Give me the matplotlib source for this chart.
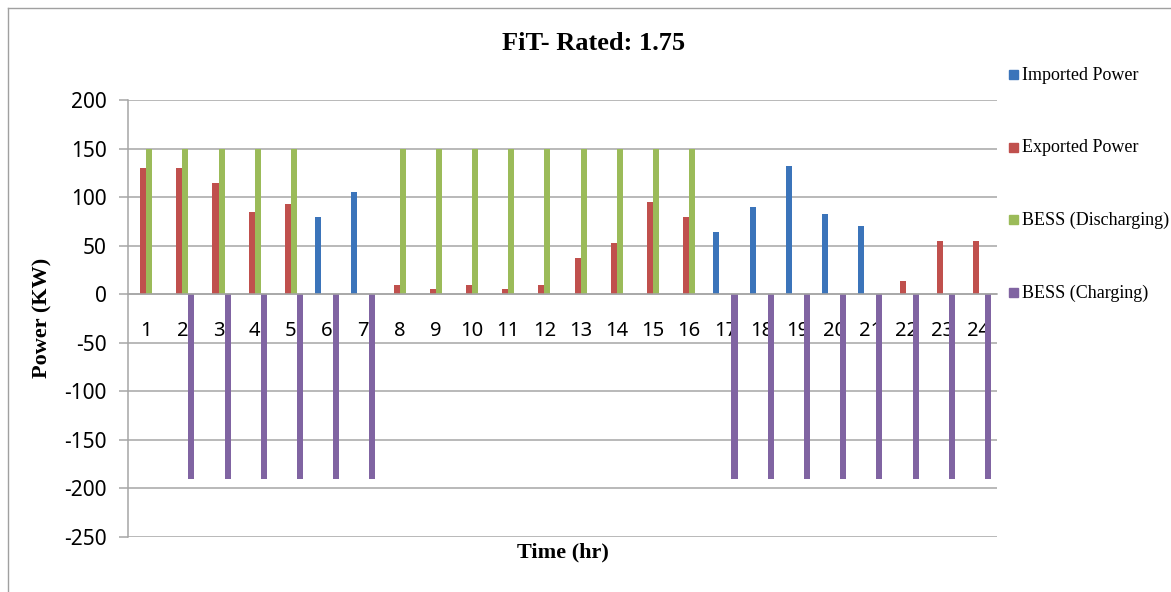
import matplotlib
matplotlib.use("Agg")
import matplotlib.pyplot as plt
from matplotlib.lines import Line2D
import numpy as np

plt.rcParams["axes.unicode_minus"] = False

hours = [str(h) for h in range(1, 25)]
imported = [0, 0, 0, 0, 0, 80, 105, 0, 0, 0, 0, 0, 0, 0, 0, 0,
            64, 90, 132, 83, 70, 0, 0, 0]
exported = [130, 130, 115, 85, 93, 0, 0, 10, 5, 10, 5, 10, 37, 53, 95, 80,
            0, 0, 0, 0, 0, 14, 55, 55]
discharging = [150, 150, 150, 150, 150, 0, 0, 150, 150, 150, 150, 150, 150,
               150, 150, 150, 0, 0, 0, 0, 0, 0, 0, 0]
charging = [0, -190, -190, -190, -190, -190, -190, 0, 0, 0, 0, 0, 0, 0, 0, 0,
            -190, -190, -190, -190, -190, -190, -190, -190]

series = [
    ("Imported Power", imported, "#3b74ba"),
    ("Exported Power", exported, "#c0504d"),
    ("BESS (Discharging)", discharging, "#9bbb59"),
    ("BESS (Charging)", charging, "#8064a2"),
]

serif = ["Liberation Serif", "DejaVu Serif"]
sans = ["Noto Sans", "DejaVu Sans"]
grid_c = "#a6a6a6"

fig = plt.figure(figsize=(11.71, 5.92), dpi=100)
ax = fig.add_axes([128 / 1171, 1 - 537 / 592, 869 / 1171, 437 / 592])

x = np.arange(len(hours))
w = 1 / 6
for k, (name, vals, col) in enumerate(series):
    ax.bar(x + (k - 1.5) * w, vals, width=w, color=col, label=name,
           linewidth=0, zorder=2)

ax.set_xlim(-0.5, len(hours) - 0.5)
ax.set_ylim(-250, 200)
ax.set_yticks(np.arange(-250, 201, 50))
ax.set_axisbelow(True)
ax.yaxis.grid(True, color=grid_c, linewidth=1.1)

for s in ("top", "right"):
    ax.spines[s].set_visible(False)
ax.spines["left"].set_color(grid_c)
ax.spines["left"].set_linewidth(1.1)
ax.spines["bottom"].set_position(("data", 0))
ax.spines["bottom"].set_color(grid_c)
ax.spines["bottom"].set_linewidth(1.1)

ax.set_xticks(x)
ax.set_xticklabels(hours, fontfamily=sans, fontsize=14.5)
ax.tick_params(axis="x", length=0, pad=19)
ax.tick_params(axis="y", length=6.5, color=grid_c, width=1.1, pad=9,
               labelsize=15)
for lab in ax.get_yticklabels():
    lab.set_fontfamily(sans)

fig.text(594 / 1171, 1 - 44 / 592, "FiT- Rated: 1.75", ha="center",
         va="center", fontfamily=serif, fontweight="bold", fontsize=19)
fig.text(42 / 1171, 1 - 318 / 592, "Power (KW)", ha="center", va="center",
         rotation=90, fontfamily=serif, fontweight="bold", fontsize=16)
fig.text(563 / 1171, 1 - 552 / 592, "Time (hr)", ha="center", va="center",
         fontfamily=serif, fontweight="bold", fontsize=16)

# legend entries down the right-hand side
leg_y = [75, 148, 220, 293]
for (name, vals, col), yy in zip(series, leg_y):
    fig.patches.append(plt.Rectangle((1009 / 1171, 1 - (yy + 4) / 592),
                                     9 / 1171, 9 / 592, color=col,
                                     transform=fig.transFigure, figure=fig))
    fig.text(1022 / 1171, 1 - yy / 592, name, ha="left", va="center",
             fontfamily=serif, fontsize=13)

# outer chart frame
fig.add_artist(Line2D([8 / 1171, 8 / 1171], [0, 1 - 8 / 592],
                      color="#a0a0a0", linewidth=1.0,
                      transform=fig.transFigure))
fig.add_artist(Line2D([8 / 1171, 1], [1 - 8 / 592, 1 - 8 / 592],
                      color="#a0a0a0", linewidth=1.0,
                      transform=fig.transFigure))

fig.savefig("out.png", dpi=100)
